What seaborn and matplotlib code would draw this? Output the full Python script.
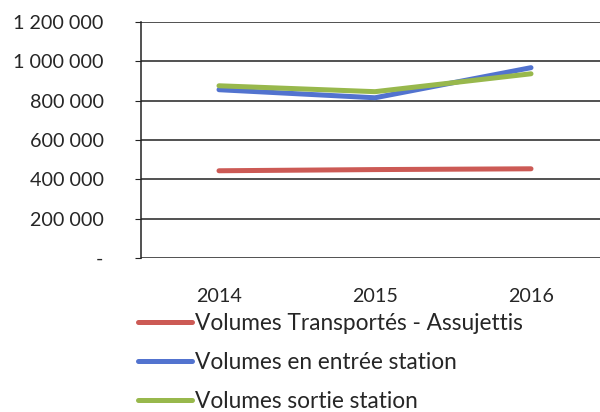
import pandas as pd
import matplotlib.pyplot as plt
import matplotlib.ticker as mticker
import seaborn as sns

years = ["2014", "2015", "2016"]
series_names = ["Volumes Transportés - Assujettis",
                "Volumes en entrée station",
                "Volumes sortie station"]
transportes = [443000, 449000, 453000]
entree = [855000, 814000, 967000]
sortie = [875000, 845000, 936000]
colors = ["#cc5a55", "#5273cf", "#98b84c"]

df = pd.DataFrame({
    "x": list(range(len(years))) * 3,
    "volume": transportes + entree + sortie,
    "serie": [s for s in series_names for _ in years],
})

sns.set_style("white")
plt.rcParams['font.family'] = ['Lato', 'DejaVu Sans']

fig = plt.figure(figsize=(6, 4.12), dpi=100)
ax = fig.add_axes([0.235, 0.374, 0.78, 0.573])

sns.lineplot(data=df, x="x", y="volume", hue="serie", palette=colors,
             linewidth=3.6, ax=ax, legend=False)

ax.set_xlim(-0.5, 2.5)
ax.set_ylim(0, 1200000)
ax.set_yticks(range(0, 1200001, 200000))
ax.yaxis.set_major_formatter(mticker.FuncFormatter(
    lambda v, p: "-" if v == 0 else f"{int(v):,}".replace(",", " ")))
ax.grid(axis="y", color="#222222", linewidth=1.1)
ax.set_axisbelow(True)

ax.set_xticks(range(len(years)))
ax.set_xticklabels(years)
ax.set_xticks([0.5, 1.5], minor=True)
ax.tick_params(axis="x", which="major", length=0, pad=22, labelsize=14.2)
ax.tick_params(axis="x", which="minor", length=6, color="#222222", direction="out")
ax.tick_params(axis="y", length=4, color="#222222", pad=23, labelsize=14.2, left=True)
ax.set_xlabel("")
ax.set_ylabel("")

for s in ["top", "right", "bottom"]:
    ax.spines[s].set_visible(False)
ax.spines["left"].set_color("#222222")
ax.spines["left"].set_linewidth(1.1)

handles = [plt.Line2D([], [], color=c, linewidth=3.6) for c in colors]
fig.legend(handles, series_names, loc="upper left",
           bbox_to_anchor=(0.215, 0.263), frameon=False,
           fontsize=16.3, handlelength=2.4, handletextpad=0.1,
           labelspacing=0.8, borderaxespad=0)

fig.savefig("out.png", dpi=100)
